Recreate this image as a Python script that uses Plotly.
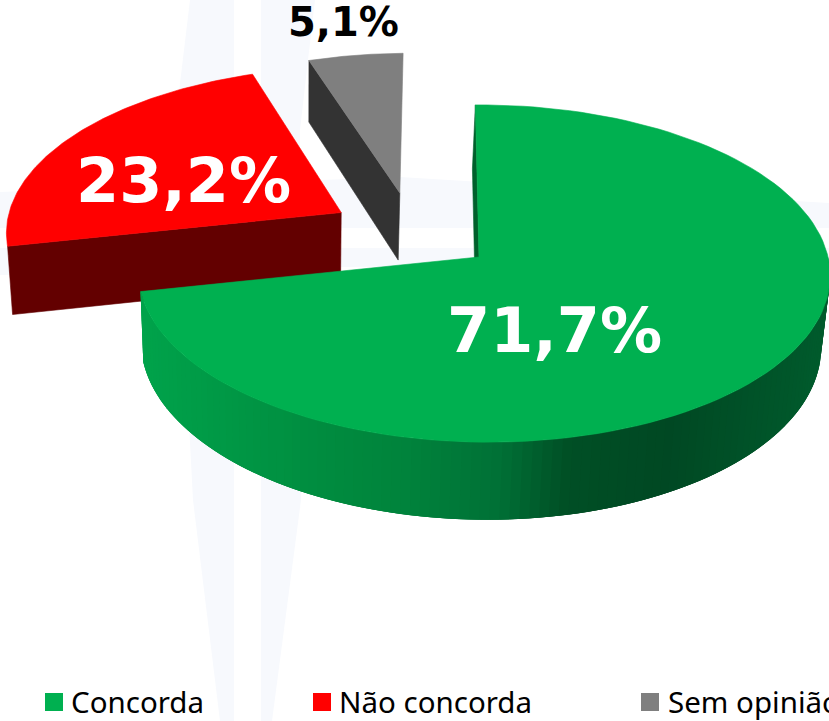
import numpy as np
import plotly.graph_objects as go

categories = ["Concorda", "Não concorda", "Sem opinião"]
values = [71.7, 23.2, 5.1]
labels = ["71,7%", "23,2%", "5,1%"]
top_colors = ["#00b050", "#ff0000", "#7f7f7f"]
face_colors = ["#00602c", "#630000", "#333333"]
explode = [(0.0, 0.0), (-0.41, 0.275), (-0.235, 0.40)]
radius = [1.0, 1.015, 0.99]

# perspective of the tilted pie, in page pixels
CX, CY, A, B, S, K, M, H = 479, 257, 344.3, 167, -4, 0.098, 0.0135, 70


def project(u, v, z=0.0):
    w = 1 + K * v - M * u
    x = CX + (A * u + S * v) / w * (1 - 0.017 * z) - 3 * z
    y = CY + (-B * v + H * z) / w
    return x, y


def rim(theta_deg, i, z=0.0):
    t = np.radians(theta_deg)
    return project(radius[i] * np.sin(t) + explode[i][0], radius[i] * np.cos(t) + explode[i][1], z)


def hex_mix(stops, x):
    xs = [s[0] for s in stops]
    rgb = [np.interp(x, xs, [s[1][i] for s in stops]) for i in range(3)]
    return "rgb(%d,%d,%d)" % tuple(int(round(c)) for c in rgb)


wall_stops = [
    (140, (0, 163, 75)), (340, (0, 138, 62)), (400, (0, 132, 60)), (500, (0, 112, 54)),
    (567, (0, 79, 37)), (667, (0, 72, 35)), (800, (0, 88, 43)), (830, (0, 92, 45)),
]

fig = go.Figure()


def poly(xs, ys, color, lw=0.6):
    fig.add_trace(go.Scatter(x=list(xs), y=list(ys), mode="lines", fill="toself", fillcolor=color,
                             line=dict(color=color, width=lw), hoverinfo="skip", showlegend=False))


edges = np.cumsum([0] + values) * 3.6
spans = [(edges[i], edges[i + 1]) for i in range(3)]


def top_poly(i):
    a, b = spans[i]
    th = np.linspace(a, b, 120)
    xs, ys = rim(th, i)
    ax, ay = project(explode[i][0], explode[i][1])
    return np.r_[ax, xs, ax], np.r_[ay, ys, ay]


def face(i, theta):
    off = explode[i]
    x0, y0 = project(off[0], off[1])
    x1, y1 = project(off[0], off[1], 1)
    x2, y2 = rim(theta, i, 1)
    x3, y3 = rim(theta, i)
    return [x0, x3, x2, x1, x0], [y0, y3, y2, y1, y0]


# red slice
poly(*face(1, spans[1][0]), face_colors[1])
poly(*top_poly(1), top_colors[1])
# grey slice
poly(*face(2, spans[2][0]), face_colors[2])
poly(*top_poly(2), top_colors[2])
# green slice: inner face, shaded wall (overlapping bands), top
poly(*face(0, 0), face_colors[0])
steps = np.linspace(90, spans[0][1], 111)
dstep = steps[1] - steps[0]
for a in steps[:-1]:
    th = np.linspace(a, min(a + 3 * dstep, spans[0][1]), 5)
    xt, yt = rim(th, 0)
    xb, yb = rim(th[::-1], 0, 1)
    mid = (rim(a + dstep / 2, 0)[0] + rim(a + dstep / 2, 0, 1)[0]) / 2
    fig.add_trace(go.Scatter(x=np.r_[xt, xb, xt[0]], y=np.r_[yt, yb, yt[0]], mode="lines", fill="toself",
                             fillcolor=hex_mix(wall_stops, mid), line=dict(width=0),
                             hoverinfo="skip", showlegend=False))
poly(*top_poly(0), top_colors[0])

# legend swatches
legend_x = [54, 322, 650]
fig.add_trace(go.Scatter(x=legend_x, y=[702, 702, 702], mode="markers",
                         marker=dict(symbol="square", size=18, color=top_colors, line=dict(width=0)),
                         text=categories, hoverinfo="text", showlegend=False))
ann = []
for x, c in zip([69, 337, 666], categories):
    ann.append(dict(x=x, y=701, text=c, xanchor="left", yanchor="middle", showarrow=False,
                    font=dict(family="Noto Sans", size=29.5, color="#000000")))
label_spec = [((554, 330), 62, "#ffffff"),
              ((183, 180), 62, "#ffffff"),
              ((343, 22), 40, "#000000")]
for ((x, y), sz, col), t in zip(label_spec, labels):
    ann.append(dict(x=x, y=y, text=t, xanchor="center", yanchor="middle", showarrow=False,
                    font=dict(family="DejaVu Sans", weight=700, size=sz, color=col)))

wm = "#f7f9fd"
shapes = []
for path in [
    "M190,0 L234,0 L234,721 L220,721 L193,500 L180,250 L178,100 Z",
    "M261,0 L315,0 L308,60 L300,130 L301,500 L272,721 L261,721 Z",
    "M0,192 L400,177 L830,203 L830,228 L0,228 Z",
    "M0,248 L830,248 L830,262 L343,267 L0,275 Z",
]:
    shapes.append(dict(type="path", path=path, fillcolor=wm, line=dict(width=0), layer="below"))

fig.update_layout(
    width=829, height=721, margin=dict(l=0, r=0, t=0, b=0),
    paper_bgcolor="#ffffff", plot_bgcolor="#ffffff",
    xaxis=dict(range=[0, 829], visible=False, fixedrange=True),
    yaxis=dict(range=[721, 0], visible=False, fixedrange=True),
    annotations=ann, shapes=shapes, showlegend=False,
)
fig.write_html("out.html", post_script="document.body.style.margin='0';", config={"displayModeBar": False})
